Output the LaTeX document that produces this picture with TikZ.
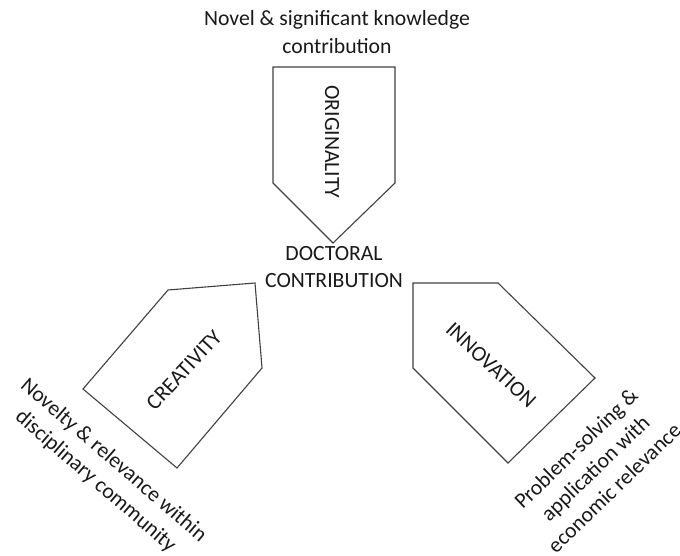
\documentclass[tikz,border=0pt]{standalone}
\usepackage{fontspec}
\setmainfont{Carlito}
\begin{document}
\begin{tikzpicture}[x=1pt,y=-1pt,
  pent/.style={draw=black!75, line width=1.1pt, line join=miter},
  lbl/.style={inner sep=0pt, align=center, text=black!90, font=\fontsize{21.7}{27.5}\selectfont}]
\useasboundingbox (0,0) rectangle (680,556);
% pentagons
\draw[pent] (273,67) -- (395,67) -- (395,183) -- (333,243) -- (273,183) -- cycle;
\draw[pent] (255,283) -- (262,368) -- (177,468) -- (83,389) -- (168,290) -- cycle;
\draw[pent] (413,283) -- (498,283) -- (595,378) -- (508,463) -- (413,368) -- cycle;
% labels
\node[lbl] (top) at (337,32) {Novel \& significant knowledge\\contribution};
\node[lbl] (orig) at (332,142) [rotate=-90] {ORIGINALITY};
\node[lbl] (doc) at (334,267) {DOCTORAL\\CONTRIBUTION};
\node[lbl, rotate=47] (crea) at (184,370) {CREATIVITY};
\node[lbl, rotate=-43] (inno) at (491,365) {INNOVATION};
\node[lbl, rotate=-40.8] (left) at (104.5,471) {Novelty \& relevance within\\disciplinary community};
\node[lbl, rotate=44] (right) at (595,468) {Problem-solving \&\\application with\\economic relevance};
\end{tikzpicture}
\end{document}
